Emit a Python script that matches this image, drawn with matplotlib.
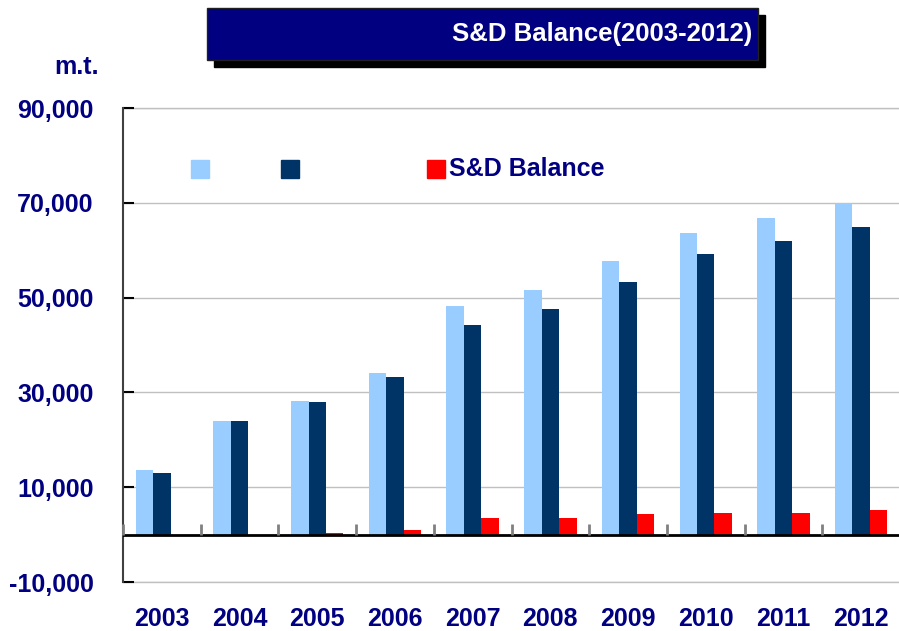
import matplotlib
matplotlib.use("Agg")
import matplotlib.pyplot as plt
from matplotlib.patches import Rectangle
from matplotlib.ticker import FuncFormatter
import numpy as np

# ---- data ----
years = ["2003", "2004", "2005", "2006", "2007", "2008", "2009", "2010", "2011", "2012"]
supply = [13600, 23900, 28100, 34000, 48200, 51600, 57700, 63600, 66700, 70000]
demand = [12900, 23900, 27900, 33200, 44200, 47600, 53200, 59100, 61900, 65000]
balance = [0, 0, 300, 900, 3400, 3600, 4300, 4500, 4500, 5100]
legend_labels = ["", "", "S&D Balance"]
title_text = "S&D Balance(2003-2012)"
unit_text = "m.t."
yticks = [-10000, 10000, 30000, 50000, 70000, 90000]

NAVY = "#000080"
C_LB = "#99CCFF"
C_DB = "#003366"
C_RED = "#FF0000"
FONT = "Liberation Sans"

W, H = 899, 631
fig = plt.figure(figsize=(W / 100, H / 100), dpi=100)
fig.patch.set_facecolor("white")

ax_l, ax_r, ax_t, ax_b = 123, 900, 108, 582
ax = fig.add_axes([ax_l / W, 1 - ax_b / H, (ax_r - ax_l) / W, (ax_b - ax_t) / H])

x = np.arange(len(years))
bw = 0.225
ax.bar(x - bw, supply, bw, color=C_LB, zorder=2)
ax.bar(x, demand, bw, color=C_DB, zorder=2)
ax.bar(x + bw, balance, bw, color=C_RED, zorder=2)

ax.set_xlim(-0.5, len(years) - 0.5)
ax.set_ylim(-10000, 90000)

# gridlines
ax.set_yticks(yticks)
ax.yaxis.grid(True, color="#C0C0C0", lw=1.0, zorder=0)
ax.set_axisbelow(True)
for yv in (yticks[0], yticks[-1]):
    ax.axhline(yv, color="#C0C0C0", lw=1.0, zorder=0, clip_on=False)
ax.yaxis.set_major_formatter(FuncFormatter(lambda v, p: f"{int(v):,}"))
ax.tick_params(axis="y", direction="in", length=8, width=1.5, color="black",
               pad=21, labelsize=18, labelcolor=NAVY)
for lab in ax.get_yticklabels():
    lab.set_fontfamily(FONT)
    lab.set_fontweight("bold")

ax.set_xticks(x)
ax.set_xticklabels(years)
ax.tick_params(axis="x", length=0, pad=18, labelsize=18, labelcolor=NAVY)
for lab in ax.get_xticklabels():
    lab.set_fontfamily(FONT)
    lab.set_fontweight("bold")

# zero line
ax.axhline(0, color="black", lw=2, zorder=3)
# category boundary ticks on zero line
bounds = np.arange(len(years)) - 0.5
ax.plot(bounds, np.zeros_like(bounds), linestyle="none", marker=2,
        markersize=8, markeredgewidth=2, color="#808080", zorder=4, clip_on=False)

for s in ["top", "right", "bottom"]:
    ax.spines[s].set_visible(False)
ax.spines["left"].set_color("#404040")
ax.spines["left"].set_linewidth(1.5)

# legend (manual)
lx = [(191 - ax_l) / (ax_r - ax_l), (281 - ax_l) / (ax_r - ax_l), (427 - ax_l) / (ax_r - ax_l)]
sw = 18 / (ax_r - ax_l)
sh = 18 / (ax_b - ax_t)
sy = (ax_b - 178) / (ax_b - ax_t)
for xx, c, lab in zip(lx, [C_LB, C_DB, C_RED], legend_labels):
    ax.add_patch(Rectangle((xx, sy), sw, sh, transform=ax.transAxes, color=c,
                           clip_on=False, zorder=5))
    if lab:
        ax.text(xx + sw + 4 / (ax_r - ax_l), sy + sh / 2, lab, transform=ax.transAxes,
                ha="left", va="center", fontsize=18, fontweight="bold",
                color=NAVY, family=FONT)

# title box with shadow
bx0, by0, bx1, by1 = 207, 8, 758, 60
off = 7
fig.patches.append(Rectangle(((bx0 + off) / W, 1 - (by1 + off) / H), (bx1 - bx0) / W,
                             (by1 - by0) / H, transform=fig.transFigure,
                             color="black", zorder=1))
fig.patches.append(Rectangle((bx0 / W, 1 - by1 / H), (bx1 - bx0) / W, (by1 - by0) / H,
                             transform=fig.transFigure, facecolor=NAVY,
                             edgecolor="#202020", lw=1, zorder=2))
fig.text(752 / W, 1 - 34 / H, title_text, ha="right", va="center", fontsize=18.5,
         fontweight="bold", color="white", family=FONT, zorder=3)

fig.text(99 / W, 1 - 67 / H, unit_text, ha="right", va="center", fontsize=18,
         fontweight="bold", color=NAVY, family=FONT)

fig.savefig("out.png", dpi=100)
